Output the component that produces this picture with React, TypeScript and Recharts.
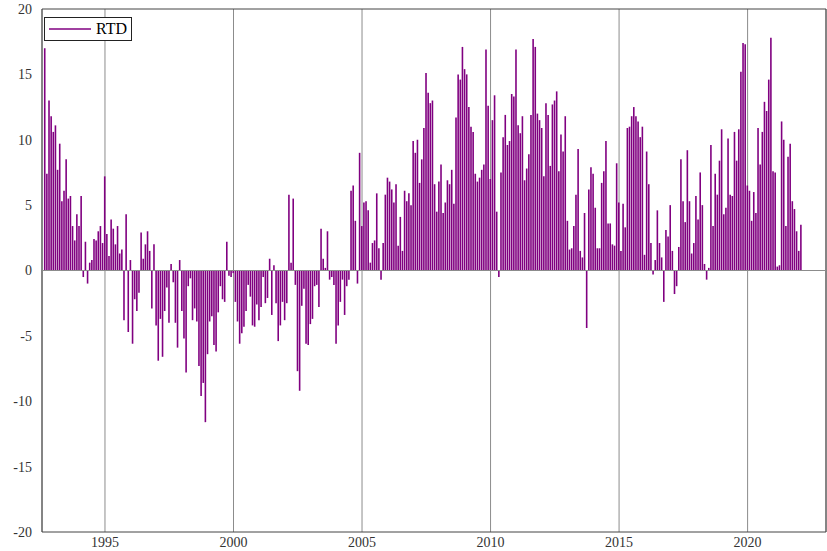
import React from 'react';
import { BarChart, Bar, XAxis, YAxis, CartesianGrid, ReferenceLine, ReferenceArea } from 'recharts';

const START_YEAR = 1992;
const START_MONTH = 9;
const seriesName = 'RTD';
const yearTicks = [1995, 2000, 2005, 2010, 2015, 2020];
const valueTicks = [-20, -15, -10, -5, 0, 5, 10, 15, 20];

const rtd1992to1995 = [17.0, 7.4, 13.0, 11.8, 10.6, 11.1, 7.7, 9.7, 5.3, 6.1, 8.5, 5.5, 5.7, 3.4, 2.3, 4.3, 3.4, 5.7, -0.5, 2.2, -1.0, 0.6, 0.8, 2.4, 2.3, 3.0, 3.4, 2.1, 7.2, 2.8, 1.1];
const rtd1995to1998 = [3.9, 3.2, 2.0, 3.4, 1.3, 1.6, -3.8, 4.3, -4.7, 0.8, -5.6, -2.2, -3.1, -1.7, 2.9, 0.9, 2.0, 3.0, 1.5, -2.9, 2.0, -4.2, -6.9, -3.7, -6.6, -3.1, -1.3, -4.0, 0.5, -0.9];
const rtd1998to2000 = [-4.0, -5.9, 0.8, -3.1, -5.2, -7.8, -1.2, -0.6, -3.8, -2.9, -3.9, -7.3, -9.6, -8.6, -11.6, -6.4, -3.9, -3.5, -5.7, -6.2, -3.2, -1.2, -2.2, -2.4, 2.2, -0.4, -0.5, -0.2, -2.4, -3.9, -5.6];
const rtd2000to2003 = [-4.8, -4.3, -3.1, -1.1, -2.0, -4.2, -4.3, -2.6, -3.8, -2.8, -0.5, -2.5, -2.1, 0.9, -3.4, 0.4, -2.5, -5.4, -4.2, -2.4, -3.8, -2.5, 5.8, 0.6, 5.5, -1.1, -7.7, -9.2, -2.7, -1.4];
const rtd2003to2005 = [-5.6, -5.7, -4.1, -3.7, -1.2, -1.1, -2.8, 3.2, 0.9, 0.2, 3.0, -0.7, -0.5, -1.1, -5.6, -4.2, -2.4, -0.7, -3.4, -1.2, -0.7, 6.1, 6.5, 3.8, -1.0, 9.0, 3.4, 5.2, 5.3, 4.6];
const rtd2005to2008 = [0.6, 2.1, 2.3, 5.9, 1.7, -0.7, 2.1, 5.8, 7.1, 6.8, 6.2, 5.2, 6.6, 1.9, 4.1, 1.5, 6.1, 5.3, 5.9, 5.0, 9.9, 9.0, 10.0, 6.7, 8.5, 10.9, 15.1, 13.6, 12.8, 13.0];
const rtd2008to2010 = [6.6, 4.5, 6.8, 8.1, 4.4, 5.2, 6.9, 6.6, 7.7, 5.1, 11.7, 15.0, 14.6, 17.1, 15.4, 15.0, 12.5, 11.0, 10.6, 7.4, 6.8, 7.1, 7.7, 8.1, 16.9, 12.6, 7.0, 11.5, 13.4, 4.5, -0.5];
const rtd2010to2013 = [7.5, 10.2, 11.9, 9.6, 9.9, 13.5, 13.3, 16.9, 11.1, 10.5, 11.8, 6.9, 7.8, 8.9, 11.9, 17.7, 17.1, 12.0, 11.5, 10.9, 7.2, 12.8, 11.9, 8.0, 12.7, 13.0, 13.7, 7.6, 10.4, 9.1];
const rtd2013to2015 = [11.8, 3.8, 1.6, 1.7, 3.4, 5.8, 9.3, 1.5, 1.0, 4.4, -4.4, 6.2, 7.9, 7.4, 4.8, 1.7, 1.7, 6.7, 7.6, 9.9, 3.6, 3.6, 2.0, 1.9, 8.2, 5.2, 1.5, 5.1, 3.3, 10.9];
const rtd2015to2018 = [11.0, 11.8, 12.5, 11.8, 11.4, 10.2, 11.0, 1.2, 9.1, 6.6, 2.1, -0.3, 0.8, 4.6, 2.1, 1.0, -2.4, 3.1, 2.6, 5.0, 1.5, -1.8, -1.2, 1.8, 8.5, 5.3, 3.7, 9.2, 5.3, 1.3, 2.1];
const rtd2018to2020 = [5.7, 3.9, 7.5, 5.0, 0.5, -0.7, 0.2, 9.6, 3.4, 7.4, 5.8, 8.4, 10.8, 4.3, 4.8, 10.1, 5.8, 5.7, 10.6, 8.4, 10.8, 15.2, 17.4, 17.3, 6.5, 6.1, 3.8, 6.0, 4.4, 10.9];
const rtd2020to2022 = [8.1, 10.6, 12.9, 12.2, 14.6, 17.8, 7.6, 7.5, 0.3, 0.4, 11.4, 10.0, 3.4, 8.7, 9.7, 5.3, 4.7, 3.0, 1.5, 3.5];

const rtdValues = [
  ...rtd1992to1995, ...rtd1995to1998, ...rtd1998to2000, ...rtd2000to2003,
  ...rtd2003to2005, ...rtd2005to2008, ...rtd2008to2010, ...rtd2010to2013,
  ...rtd2013to2015, ...rtd2015to2018, ...rtd2018to2020, ...rtd2020to2022,
];

const data = rtdValues.map((v, i) => ({ t: START_YEAR + (START_MONTH - 1 + i) / 12, RTD: v }));

const X_MIN = 1992.55;
const X_MAX = 2023.05;
const PURPLE = '#800080';
const FONT = '"Liberation Serif", "Times New Roman", serif';

const LegendBox = () => (
  <div style={{ position: 'absolute', left: 44, top: 17, border: '1px solid #222', background: '#fff', display: 'flex', alignItems: 'center', padding: '2px 4px 2px 3px', fontFamily: FONT, fontSize: 16, lineHeight: '18px', color: '#000' }}>
    <svg width={44} height={10} style={{ marginRight: 4 }}>
      <line x1={1} y1={5} x2={43} y2={5} stroke={PURPLE} strokeWidth={1.5} />
    </svg>
    <span>{seriesName}</span>
  </div>
);

export default function App() {
  return (
    <div style={{ position: 'absolute', left: 0, top: 0, width: 827, height: 551, background: '#fff' }}>
      <BarChart width={827} height={551} data={data} margin={{ top: 9, right: 1, bottom: 0, left: 0 }} barCategoryGap={0}>
        <CartesianGrid horizontal={false} vertical stroke="#8c8c8c" strokeWidth={1} />
        <XAxis
          dataKey="t"
          type="number"
          domain={[X_MIN, X_MAX]}
          ticks={yearTicks}
          allowDataOverflow
          height={19}
          axisLine={false}
          tickLine={false}
          tickSize={0}
          tickMargin={5}
          tick={{ fontFamily: FONT, fontSize: 14, fill: '#333' }}
          interval={0}
        />
        <YAxis
          type="number"
          domain={[-20, 20]}
          ticks={valueTicks}
          allowDataOverflow
          width={42}
          axisLine={false}
          tickLine={false}
          tickSize={8}
          tickMargin={2}
          tick={{ fontFamily: FONT, fontSize: 14, fill: '#333' }}
          interval={0}
        />
        <ReferenceLine y={0} stroke="#8c8c8c" />
        <Bar dataKey="RTD" name={seriesName} fill={PURPLE} barSize={1.6} isAnimationActive={false} />
        <ReferenceArea x1={X_MIN} x2={X_MAX} y1={-20} y2={20} fill="none" fillOpacity={0} stroke="#444" ifOverflow="visible" />
      </BarChart>
      <LegendBox />
    </div>
  );
}
